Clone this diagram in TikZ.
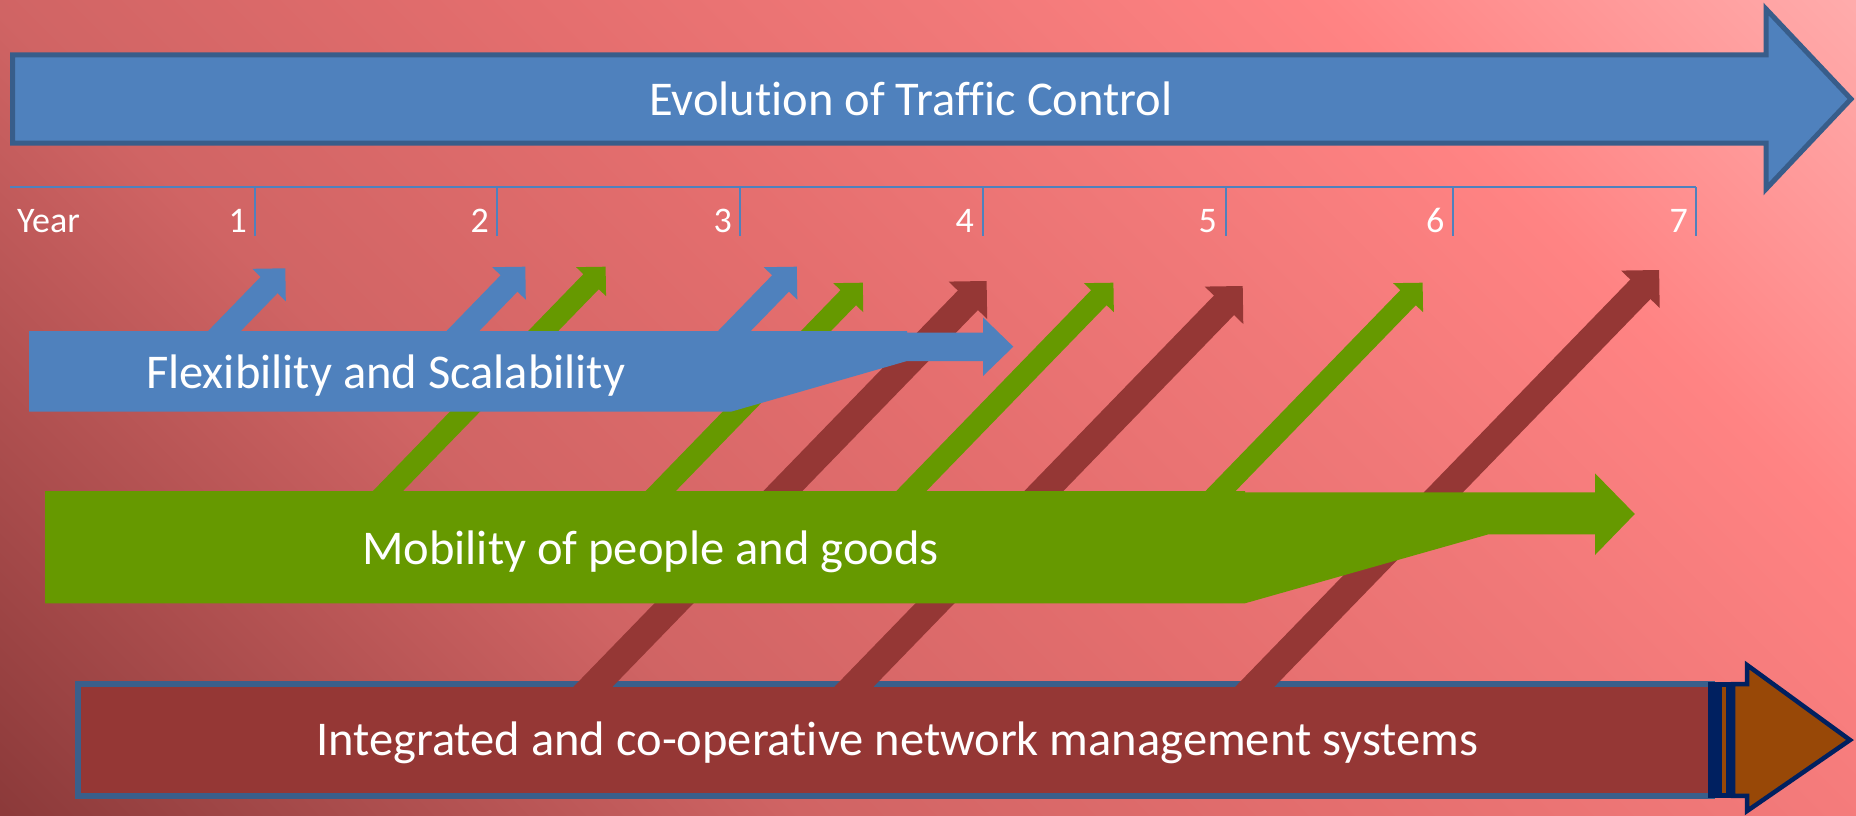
\documentclass[tikz,border=0pt]{standalone}
\usepackage{fontspec}
\setmainfont{Carlito}[Ligatures=NoCommon]
\usetikzlibrary{calc}
\definecolor{bgA}{HTML}{8C3A3A}
\definecolor{bgB}{HTML}{D06464}
\definecolor{bgC}{HTML}{E46E6E}
\definecolor{bgD}{HTML}{F07878}
\definecolor{bgE}{HTML}{FF8383}
\definecolor{bgF}{HTML}{FFABAB}
\definecolor{oblue}{HTML}{4F81BD}
\definecolor{oblueline}{HTML}{385D8A}
\definecolor{boxline}{HTML}{3A5F8B}
\definecolor{ogreen}{HTML}{669900}
\definecolor{dred}{HTML}{953735}
\definecolor{obrown}{HTML}{984807}
\definecolor{onavy}{HTML}{002060}
\pgfdeclareverticalshading{bgshade}{100bp}{color(0bp)=(bgA); color(25bp)=(bgA); color(40bp)=(bgB); color(50bp)=(bgC); color(57.5bp)=(bgD); color(65bp)=(bgE); color(75bp)=(bgF); color(100bp)=(bgF)}
\newcommand{\diagarrow}[6]{%
  \draw[#3, line width=#4] (#1) -- ($(#2)!#6!(#1)$);
  \fill[#3] (#2) -- ($(#2)!#5!45:(#1)$) -- ($(#2)!#5!-45:(#1)$) -- cycle;
}
\tikzset{
  bigtext/.style={text=white, inner sep=0pt, font=\fontsize{48.5}{58}\selectfont},
  smalltext/.style={text=white, inner sep=0pt, font=\fontsize{36}{43}\selectfont},
  redarr/.style={color=dred},
  greenarr/.style={color=ogreen},
  bluearr/.style={color=oblue},
  tick/.style={draw=oblue, line width=1.6pt},
}
\begin{document}
\begin{tikzpicture}[x=1pt,y=-1pt]
\useasboundingbox (0,0) rectangle (1856,816);
% background
\begin{scope}
\clip (0,0) rectangle (1856,816);
\shade[shading=bgshade, shading angle=-45] (-16.7,-536.7) rectangle (1872.7,1352.7);
\end{scope}

% bottom box and its arrow end
\draw[boxline, fill=dred, line width=5.5pt] (78,684.2) rectangle (1712,795.8);
\fill[onavy] (1707.7,681.7) rectangle (1735.5,798.3);
\fill[obrown] (1721.7,687) rectangle (1725.7,793.3);
\draw[onavy, fill=obrown, line width=4.5pt, line join=miter]
  (1733,684.2) -- (1747,684.2) -- (1747,665) -- (1850,740) -- (1747,811) -- (1747,795.8) -- (1733,795.8) -- cycle;

% red diagonal arrows
\coordinate (r1s) at (575.3,705);  \coordinate (r1t) at (986.6,281);
\coordinate (r2s) at (836.3,705);  \coordinate (r2t) at (1242.7,286);
\coordinate (r3s) at (1237.1,705); \coordinate (r3t) at (1659.1,270);
\diagarrow{r1s}{r1t}{redarr}{28pt}{38pt}{22pt}
\diagarrow{r2s}{r2t}{redarr}{28pt}{38pt}{22pt}
\diagarrow{r3s}{r3t}{redarr}{28pt}{38pt}{22pt}

% green big arrow
\fill[ogreen] (45,491) -- (1245,491) -- (1245,492.3) -- (1595,492.3) -- (1595,473.3) -- (1634.8,514)
  -- (1595,555) -- (1595,534.3) -- (1488.5,534.3) -- (1245,603.3) -- (45,603.3) -- cycle;

% green diagonal arrows
\coordinate (g1s) at (374.4,505);  \coordinate (g1t) at (605.6,266.7);
\coordinate (g2s) at (647.2,505);  \coordinate (g2t) at (862.8,282.7);
\coordinate (g3s) at (897.8,505);  \coordinate (g3t) at (1113.4,282.7);
\coordinate (g4s) at (1207,505);   \coordinate (g4t) at (1422.6,282.7);
\diagarrow{g1s}{g1t}{greenarr}{21.6pt}{29.5pt}{17.5pt}
\diagarrow{g2s}{g2t}{greenarr}{21.6pt}{29.5pt}{17.5pt}
\diagarrow{g3s}{g3t}{greenarr}{21.6pt}{29.5pt}{17.5pt}
\diagarrow{g4s}{g4t}{greenarr}{21.6pt}{29.5pt}{17.5pt}

% blue big arrow
\fill[oblue] (29,331) -- (907,331) -- (907,332.7) -- (983,332.7) -- (983,317.3) -- (1013.3,346.7)
  -- (983,376) -- (983,361) -- (907,361) -- (731.7,411.5) -- (29,411.5) -- cycle;

% blue diagonal arrows
\coordinate (b1s) at (210.9,345); \coordinate (b1t) at (285.3,268.3);
\coordinate (b2s) at (449.3,345); \coordinate (b2t) at (525.3,266.7);
\coordinate (b3s) at (720.8,345); \coordinate (b3t) at (796.8,266.7);
\diagarrow{b1s}{b1t}{bluearr}{23.5pt}{33pt}{20pt}
\diagarrow{b2s}{b2t}{bluearr}{23.5pt}{33pt}{20pt}
\diagarrow{b3s}{b3t}{bluearr}{23.5pt}{33pt}{20pt}

% top arrow
\draw[oblueline, fill=oblue, line width=5pt, line join=miter]
  (12.7,55) -- (1766,55) -- (1766,9) -- (1851,99) -- (1766,189) -- (1766,143) -- (12.7,143) -- cycle;

% timeline
\draw[oblue, line width=2.2pt] (10,187) -- (1696,187);
\foreach \x in {255,497,740,983,1226,1453,1696} {
  \draw[tick] (\x,187) -- (\x,236);
}

% texts
\node[bigtext, anchor=base] (evo) at (911,115) {Evolution of Traffic Control};
\node[bigtext, anchor=base west] (flex) at (146,388) {Flexibility and Scalability};
\node[bigtext, anchor=base west] (mob) at (362,564) {Mobility of people and goods};
\node[bigtext, anchor=base west] (integ) at (316,755) {Integrated and co-operative network management systems};
\node[smalltext, anchor=base west] (year) at (17,232) {Year};
\node[smalltext, anchor=base east] (y1) at (247,232) {1};
\node[smalltext, anchor=base east] (y2) at (489,232) {2};
\node[smalltext, anchor=base east] (y3) at (732,232) {3};
\node[smalltext, anchor=base east] (y4) at (974,232) {4};
\node[smalltext, anchor=base east] (y5) at (1217,232) {5};
\node[smalltext, anchor=base east] (y6) at (1444.5,232) {6};
\node[smalltext, anchor=base east] (y7) at (1688,232) {7};
\end{tikzpicture}
\end{document}
